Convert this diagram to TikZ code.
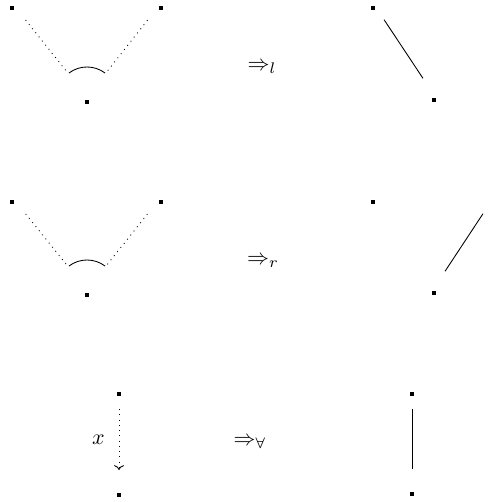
\documentclass[tikz,border=0pt]{standalone}
\usepackage{amsmath,amssymb}
\usetikzlibrary{arrows.meta,calc}

\begin{document}
\begin{tikzpicture}[
  x=0.016cm, y=0.016cm,
  pt/.style={rectangle, fill, inner sep=0pt, minimum size=1.6pt},
  lnk/.style={shorten <=0.32cm, shorten >=0.32cm},
  parlnk/.style={dotted, shorten <=0.35cm, shorten >=0.48cm},
  arr/.style={-{To[width=4.5pt,length=2.2pt]}}
]
\useasboundingbox (0,0) rectangle (492,502);

% Rule l
\node[pt] (l1) at (12,494) {};
\node[pt] (m1) at (87,400) {};
\node[pt] (r1) at (161,494) {};
\draw[parlnk] ([yshift=0.08cm]l1.center) -- ([yshift=0.08cm]m1.center);
\draw[parlnk] ([yshift=0.08cm]r1.center) -- ([yshift=0.08cm]m1.center);
\draw ([yshift=0.08cm]m1.center) ++(127:30) arc[start angle=127, end angle=53, radius=30];

\node (rl) at (262,434) {$\Rightarrow_l$};

\node[pt] (p1) at (373,494) {};
\node[pt] (q1) at (434,402) {};
\draw[lnk] ([yshift=0.08cm]p1.center) -- ([yshift=0.08cm]q1.center);

% Rule r
\node[pt] (l2) at (12,300) {};
\node[pt] (m2) at (87,207) {};
\node[pt] (r2) at (161,300) {};
\draw[parlnk] ([yshift=0.08cm]l2.center) -- ([yshift=0.08cm]m2.center);
\draw[parlnk] ([yshift=0.08cm]r2.center) -- ([yshift=0.08cm]m2.center);
\draw ([yshift=0.08cm]m2.center) ++(127:30) arc[start angle=127, end angle=53, radius=30];

\node (rr) at (263,240) {$\Rightarrow_r$};

\node[pt] (p2) at (373,300) {};
\node[pt] (q2) at (434,209) {};
\coordinate (s2) at (494,300);
\draw[lnk] ([yshift=0.08cm]s2) -- ([yshift=0.08cm]q2.center);

% Rule forall
\node[pt] (a3) at (119,108) {};
\node[pt] (b3) at (119,7) {};
\draw[dotted, lnk, arr] ([yshift=0.08cm]a3.center) -- node[left=3pt] {$x$} ([yshift=0.08cm]b3.center);

\node (ra) at (250,59) {$\Rightarrow_\forall$};

\node[pt] (p3) at (412,108) {};
\node[pt] (q3) at (412,8) {};
\draw[lnk] ([yshift=0.08cm]p3.center) -- ([yshift=0.08cm]q3.center);

\end{tikzpicture}
\end{document}
